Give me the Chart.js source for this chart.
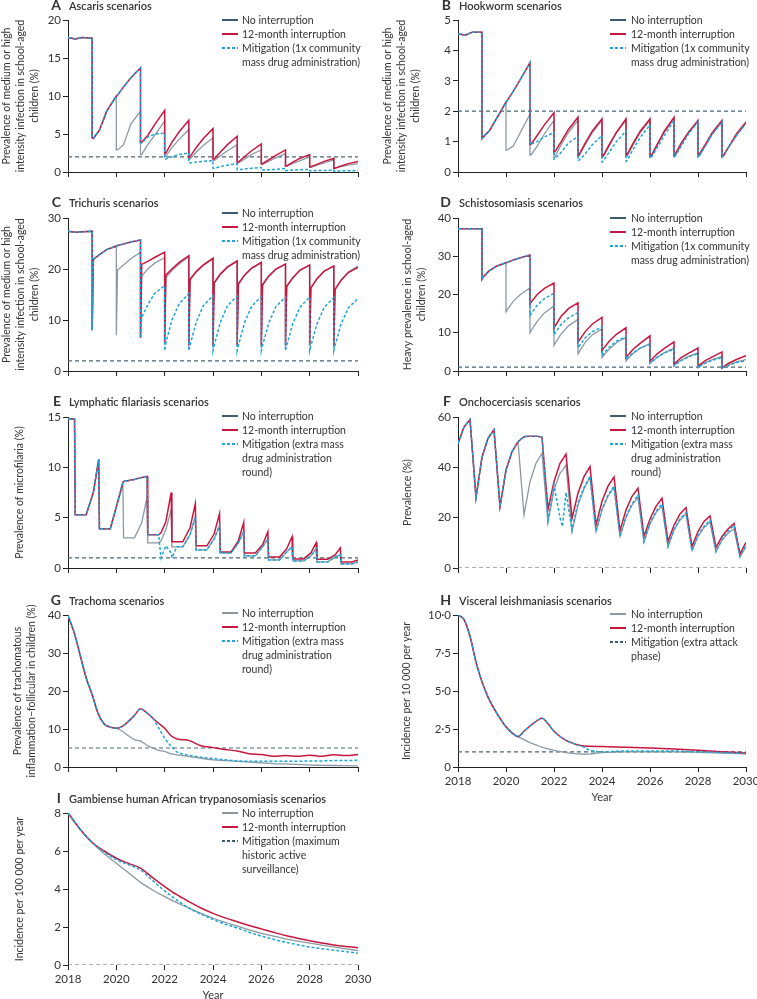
<!DOCTYPE html>
<html>
<head>
<meta charset="utf-8">
<script src="https://cdn.jsdelivr.net/npm/chart.js@4.4.1/dist/chart.umd.min.js"></script>
<style>
body { margin: 0; background: #fff; font-family: Lato, sans-serif; color: #333; }
#fig { position: relative; width: 757px; height: 999px; overflow: hidden; }
canvas { position: absolute; }
.ttl { position: absolute; font-size: 11px; font-weight: 600; line-height: 14px; white-space: nowrap; z-index: 2; }
.ttl .lt { position: absolute; right: 100%; margin-right: 8px; font-size: 14px; font-weight: 700; top: -1px; }
.leg { position: absolute; font-size: 10.5px; line-height: 14px; white-space: nowrap; z-index: 2; }
.leg .it { position: relative; }
.leg .sw { position: absolute; top: 6px; width: 16px; height: 1.6px; }
</style>
</head>
<body>
<div id="fig"></div>
<script>
// time grid shared by the ascaris / hookworm / trichuris / schisto panels (MDA each January)
const mdaYears = [2018, 2018.3, 2018.6,
  2019, 2019, 2019.05, 2019.3, 2019.6,
  2020, 2020, 2020.05, 2020.3, 2020.6,
  2021, 2021, 2021.05, 2021.3, 2021.6,
  2022, 2022, 2022.05, 2022.3, 2022.6,
  2023, 2023, 2023.05, 2023.3, 2023.6,
  2024, 2024, 2024.05, 2024.3, 2024.6,
  2025, 2025, 2025.05, 2025.3, 2025.6,
  2026, 2026, 2026.05, 2026.3, 2026.6,
  2027, 2027, 2027.05, 2027.3, 2027.6,
  2028, 2028, 2028.05, 2028.3, 2028.6,
  2029, 2029, 2029.05, 2029.3, 2029.6,
  2030];

// A ascaris
const ascarisNone = [17.7, 17.5, 17.7,
  17.6, 4.5, 4.4, 5.5, 8.0,
  10.0, 2.9, 2.9, 3.6, 6.3,
  8.0, 2.3, 2.3, 3.6, 4.9,
  6.7, 2.0, 2.1, 3.2, 4.3,
  5.6, 1.7, 1.7, 2.6, 3.5,
  4.5, 1.5, 1.5, 2.1, 2.8,
  3.6, 1.2, 1.2, 1.7, 2.3,
  2.9, 1.0, 1.0, 1.4, 1.9,
  2.4, 0.8, 0.8, 1.1, 1.5,
  2.0, 0.6, 0.6, 0.9, 1.2,
  1.6, 0.5, 0.5, 0.7, 0.9,
  1.1];
const ascarisStop = [17.7, 17.5, 17.7,
  17.6, 4.5, 4.4, 5.5, 8.0,
  10.0, 10.0, 10.1, 11.2, 12.4,
  13.7, 3.9, 3.9, 4.8, 6.3,
  8.1, 2.4, 2.5, 3.9, 5.3,
  6.8, 1.9, 2.0, 3.2, 4.4,
  5.7, 1.7, 1.7, 2.6, 3.6,
  4.7, 1.3, 1.3, 2.0, 2.8,
  3.7, 1.1, 1.1, 1.6, 2.2,
  2.9, 0.8, 0.8, 1.3, 1.8,
  2.3, 0.7, 0.7, 1.0, 1.4,
  1.8, 0.5, 0.5, 0.8, 1.1,
  1.4];
const ascarisMit = [17.7, 17.5, 17.7,
  17.6, 4.5, 4.4, 5.5, 8.0,
  10.0, 10.0, 10.1, 11.2, 12.4,
  13.7, 3.8, 3.8, 4.6, 5.0,
  5.1, 1.7, 1.7, 2.0, 2.3,
  2.5, 1.2, 1.2, 1.3, 1.4,
  1.5, 0.5, 0.5, 0.7, 0.9,
  1.1, 0.3, 0.3, 0.4, 0.5,
  0.6, 0.25, 0.25, 0.3, 0.35,
  0.45, 0.2, 0.2, 0.25, 0.3,
  0.35, 0.15, 0.15, 0.2, 0.2,
  0.25, 0.1, 0.1, 0.15, 0.15,
  0.2];

// B hookworm
const hookNone = [4.55, 4.5, 4.6,
  4.6, 1.1, 1.15, 1.35, 1.75,
  2.3, 0.72, 0.73, 0.85, 1.3,
  1.9, 0.55, 0.57, 0.85, 1.25,
  1.7, 0.5, 0.52, 0.9, 1.3,
  1.7, 0.5, 0.53, 0.9, 1.3,
  1.7, 0.5, 0.52, 0.85, 1.3,
  1.7, 0.5, 0.52, 0.9, 1.3,
  1.7, 0.5, 0.52, 0.9, 1.3,
  1.75, 0.5, 0.53, 0.9, 1.3,
  1.65, 0.5, 0.52, 0.85, 1.25,
  1.65, 0.5, 0.52, 0.85, 1.2,
  1.6];
const hookStop = [4.55, 4.5, 4.6,
  4.6, 1.1, 1.15, 1.35, 1.75,
  2.3, 2.3, 2.35, 2.65, 3.05,
  3.6, 0.9, 0.92, 1.2, 1.55,
  1.95, 0.65, 0.68, 1.0, 1.4,
  1.8, 0.55, 0.58, 0.95, 1.35,
  1.75, 0.5, 0.53, 0.9, 1.3,
  1.75, 0.55, 0.58, 0.95, 1.35,
  1.75, 0.5, 0.53, 0.9, 1.35,
  1.8, 0.55, 0.58, 0.95, 1.3,
  1.7, 0.55, 0.58, 0.9, 1.3,
  1.7, 0.5, 0.53, 0.85, 1.25,
  1.65];
const hookMit = [4.55, 4.5, 4.6,
  4.6, 1.1, 1.15, 1.35, 1.75,
  2.3, 2.3, 2.35, 2.65, 3.05,
  3.6, 0.9, 0.92, 1.0, 1.15,
  1.3, 0.42, 0.44, 0.65, 0.95,
  1.17, 0.37, 0.39, 0.6, 0.9,
  1.2, 0.33, 0.36, 0.65, 1.0,
  1.35, 0.35, 0.38, 0.75, 1.15,
  1.55, 0.45, 0.48, 0.8, 1.2,
  1.7, 0.5, 0.52, 0.85, 1.25,
  1.65, 0.5, 0.52, 0.85, 1.25,
  1.65, 0.5, 0.52, 0.85, 1.2,
  1.6];

// C trichuris
const trichNone = [27.4, 27.2, 27.3,
  27.4, 8.0, 21.9, 22.8, 23.8,
  24.5, 7.0, 19.8, 20.8, 22.0,
  23.3, 6.5, 18.6, 20.0, 21.2,
  22.2, 5.5, 18.3, 19.7, 21.0,
  22.4, 5.0, 17.8, 19.3, 20.7,
  22.0, 5.0, 17.2, 18.9, 20.3,
  21.5, 5.0, 17.0, 18.7, 20.1,
  21.2, 5.0, 16.8, 18.5, 19.9,
  20.9, 5.0, 16.5, 18.2, 19.7,
  20.7, 5.0, 16.2, 18.0, 19.5,
  20.5, 5.0, 16.0, 17.8, 19.4,
  20.6];
const trichStop = [27.4, 27.2, 27.3,
  27.4, 8.0, 21.9, 22.8, 23.8,
  24.5, 24.5, 24.6, 24.9, 25.3,
  25.7, 6.5, 20.9, 21.5, 22.3,
  23.3, 5.5, 18.8, 20.0, 21.3,
  22.6, 5.0, 18.0, 19.5, 20.8,
  22.1, 5.0, 17.3, 19.0, 20.4,
  21.6, 5.0, 17.1, 18.8, 20.2,
  21.3, 5.0, 16.9, 18.6, 20.0,
  21.0, 5.0, 16.6, 18.3, 19.8,
  20.8, 5.0, 16.3, 18.1, 19.6,
  20.6, 5.0, 16.0, 17.8, 19.3,
  20.3];
const trichMit = [27.4, 27.2, 27.3,
  27.4, 8.0, 21.9, 22.8, 23.8,
  24.5, 24.5, 24.6, 24.9, 25.3,
  25.7, 6.5, 10.5, 13.0, 15.3,
  16.7, 4.0, 5.5, 10.0, 13.2,
  15.2, 4.0, 5.0, 9.5, 12.8,
  14.8, 4.0, 5.0, 9.5, 12.8,
  14.7, 4.0, 5.0, 9.4, 12.7,
  14.6, 4.0, 5.0, 9.3, 12.6,
  14.5, 4.0, 5.0, 9.3, 12.5,
  14.5, 4.0, 5.0, 9.2, 12.5,
  14.4, 4.0, 5.0, 9.2, 12.4,
  14.2];

// D schistosomiasis
const schistoNone = [37.2, 37.2, 37.2,
  37.2, 24.0, 24.6, 26.2, 27.4,
  28.3, 15.5, 16.0, 18.2, 20.0,
  21.7, 10.0, 10.6, 13.0, 15.2,
  17.0, 6.7, 7.3, 9.7, 11.8,
  13.5, 4.5, 5.0, 7.5, 9.5,
  11.0, 3.5, 3.9, 5.7, 7.4,
  8.8, 2.6, 3.0, 4.6, 6.0,
  7.2, 2.0, 2.3, 3.6, 4.8,
  6.0, 1.5, 1.8, 2.8, 3.8,
  4.7, 1.1, 1.3, 2.2, 3.0,
  3.8, 0.8, 1.0, 1.7, 2.4,
  3.0];
const schistoStop = [37.2, 37.2, 37.2,
  37.2, 24.0, 24.6, 26.2, 27.4,
  28.3, 28.3, 28.4, 29.0, 29.6,
  30.3, 17.5, 18.0, 20.0, 21.6,
  23.0, 11.2, 11.8, 14.3, 16.3,
  17.8, 7.5, 8.0, 10.3, 12.3,
  14.0, 5.3, 5.8, 7.8, 9.6,
  11.3, 3.5, 3.9, 5.7, 7.3,
  9.2, 2.5, 2.9, 4.5, 5.9,
  7.6, 1.8, 2.1, 3.5, 4.6,
  6.0, 1.2, 1.5, 2.7, 3.7,
  5.0, 0.8, 1.1, 2.1, 3.0,
  4.0];
const schistoMit = [37.2, 37.2, 37.2,
  37.2, 24.0, 24.6, 26.2, 27.4,
  28.3, 28.3, 28.4, 29.0, 29.6,
  30.3, 14.5, 15.0, 17.2, 18.9,
  20.3, 9.5, 10.0, 12.2, 13.9,
  15.3, 6.0, 6.5, 8.7, 10.3,
  11.5, 4.0, 4.4, 6.2, 7.8,
  9.0, 3.0, 3.3, 4.8, 6.0,
  7.0, 2.0, 2.3, 3.6, 4.7,
  5.7, 1.3, 1.6, 2.7, 3.7,
  4.5, 0.9, 1.1, 2.0, 2.8,
  3.5, 0.7, 0.9, 1.5, 2.2,
  2.7];

// E lymphatic filariasis (MDA in spring)
const lfYears = [2018,
  2018.27, 2018.3, 2018.75, 2019.05,
  2019.27, 2019.3, 2019.75, 2020.05,
  2020.27, 2020.3, 2020.75, 2021.05,
  2021.27, 2021.3, 2021.75, 2021.85, 2022.05,
  2022.27, 2022.3, 2022.5, 2022.75, 2023.05,
  2023.27, 2023.3, 2023.75, 2024.05,
  2024.27, 2024.3, 2024.75, 2025.05,
  2025.27, 2025.3, 2025.75, 2026.05,
  2026.27, 2026.3, 2026.75, 2027.05,
  2027.27, 2027.3, 2027.75, 2028.05,
  2028.27, 2028.3, 2028.75, 2029.05,
  2029.27, 2029.3, 2029.75, 2030];
const lfNone = [14.8,
  14.8, 5.3, 5.3, 7.5,
  10.8, 3.9, 3.9, 6.5,
  8.3, 3.0, 3.0, 4.5,
  7.0, 2.5, 2.5, 2.7, 3.8,
  5.8, 2.1, 2.1, 2.1, 3.3,
  5.1, 1.8, 1.8, 2.9,
  4.2, 1.5, 1.5, 2.5,
  3.6, 1.2, 1.2, 2.1,
  2.9, 0.8, 0.8, 1.6,
  2.1, 0.7, 0.7, 1.2,
  1.9, 0.6, 0.6, 1.1,
  1.3, 0.4, 0.4, 0.6];
const lfStop = [14.8,
  14.8, 5.3, 5.3, 7.5,
  10.8, 3.9, 3.9, 6.5,
  8.5, 8.6, 8.8, 9.0,
  9.1, 3.3, 3.3, 3.5, 4.6,
  7.5, 2.6, 2.6, 2.6, 4.0,
  6.4, 2.2, 2.2, 3.4,
  5.4, 1.6, 1.6, 2.7,
  4.5, 1.5, 1.5, 2.3,
  3.6, 1.1, 1.1, 1.9,
  3.1, 0.9, 0.9, 1.5,
  2.5, 0.87, 0.87, 1.3,
  2.0, 0.6, 0.6, 0.8];
const lfMit = [14.8,
  14.8, 5.3, 5.3, 7.5,
  10.8, 3.9, 3.9, 6.5,
  8.5, 8.6, 8.8, 9.0,
  9.1, 3.3, 3.3, 1.0, 2.2,
  1.5, 1.0, 2.1, 2.1, 3.3,
  5.1, 1.8, 1.8, 2.9,
  4.2, 1.5, 1.5, 2.5,
  3.6, 1.2, 1.2, 2.1,
  2.9, 0.8, 0.8, 1.6,
  2.1, 0.7, 0.7, 1.2,
  1.9, 0.6, 0.6, 1.1,
  1.3, 0.4, 0.4, 0.6];

// F onchocerciasis
const onchoYears = [2018, 2018.25,
  2018.5, 2018.75, 2019, 2019.25,
  2019.5, 2019.75, 2020, 2020.25,
  2020.5, 2020.75, 2021, 2021.25,
  2021.5, 2021.75, 2022, 2022.25, 2022.35,
  2022.5, 2022.75, 2023, 2023.25,
  2023.5, 2023.75, 2024, 2024.25,
  2024.5, 2024.75, 2025, 2025.25,
  2025.5, 2025.75, 2026, 2026.25,
  2026.5, 2026.75, 2027, 2027.25,
  2027.5, 2027.75, 2028, 2028.25,
  2028.5, 2028.75, 2029, 2029.25,
  2029.5, 2029.75, 2030];
const onchoNone = [49.5, 56,
  59, 28, 44, 51.5,
  55, 24.4, 38.9, 46.2,
  50.2, 21.1, 34.3, 41.6,
  45.6, 18.0, 31.0, 37.6, 38.8,
  41.0, 14.5, 25.0, 31.5,
  36.0, 14.5, 23.0, 28.5,
  32.0, 12.5, 20.0, 25.0,
  28.0, 10.5, 17.5, 22.0,
  24.5, 8.5, 15.0, 19.0,
  21.5, 7.0, 12.5, 16.0,
  18.3, 6.5, 11.0, 13.8,
  15.5, 4.5, 8.5];
const onchoStop = [49.5, 56,
  59, 28, 44, 51.5,
  55, 24.4, 38.9, 46.2,
  50.2, 52.2, 52.4, 52.4,
  52.0, 23.3, 34.3, 41.6, 43.0,
  45.3, 19.7, 29.7, 36.3,
  40.3, 17.1, 26.5, 32.5,
  36.2, 14.8, 23.0, 28.5,
  31.7, 12.5, 19.5, 24.5,
  27.7, 10.5, 17.0, 21.5,
  24.0, 8.5, 14.5, 18.5,
  20.7, 8.2, 12.5, 15.5,
  17.7, 5.6, 10.2];
const onchoMit = [49.5, 56,
  59, 28, 44, 51.5,
  55, 24.4, 38.9, 46.2,
  50.2, 52.2, 52.4, 52.4,
  52.0, 19.0, 33.0, 20.0, 16.5,
  30.0, 15.0, 26.0, 32.0,
  36.5, 14.5, 23.5, 29.0,
  32.5, 12.5, 20.5, 25.5,
  29.0, 10.5, 18.0, 22.5,
  25.5, 8.5, 15.5, 19.5,
  22.0, 7.0, 13.0, 16.5,
  19.0, 6.5, 11.5, 14.5,
  17.0, 4.5, 9.0];

// G trachoma
const trachYears = [2018, 2018.25, 2018.5, 2018.75, 2019, 2019.25, 2019.5, 2019.75,
  2020, 2020.25, 2020.5, 2020.75, 2021, 2021.25, 2021.5, 2021.75,
  2022, 2022.25, 2022.5, 2022.75, 2023, 2023.5, 2024, 2024.5, 2025, 2025.5,
  2026, 2026.5, 2027, 2027.5, 2028, 2028.5, 2029, 2029.5, 2030];
const trachNone = [39.8, 35.5, 29.5, 23.5, 19.0, 14.0, 11.3, 10.5,
  10.2, 9.4, 8.2, 7.2, 6.8, 5.8, 5.0, 4.4,
  4.1, 3.5, 3.2, 3.0, 2.8, 2.3, 1.9, 1.7, 1.5, 1.3,
  1.1, 0.9, 0.8, 0.7, 0.5, 0.45, 0.4, 0.35, 0.3];
const trachStop = [39.8, 35.5, 29.5, 23.5, 19.0, 14.0, 11.3, 10.5,
  10.2, 10.7, 12.0, 13.6, 15.3, 14.3, 12.9, 11.5,
  10.2, 8.3, 7.4, 7.2, 7.0, 5.6, 5.1, 4.6, 4.2, 3.5,
  3.3, 2.8, 3.0, 2.8, 3.1, 2.8, 3.2, 3.0, 3.3];
const trachMit = [39.8, 35.5, 29.5, 23.5, 19.0, 14.0, 11.3, 10.5,
  10.2, 10.7, 12.0, 13.6, 15.3, 14.3, 12.9, 10.3,
  7.6, 5.6, 4.0, 3.4, 3.1, 2.6, 2.2, 1.9, 1.6, 1.5,
  1.5, 1.5, 1.5, 1.5, 1.6, 1.6, 1.7, 1.7, 1.8];

// H visceral leishmaniasis
const vlYears = [2018, 2018.25, 2018.5, 2018.75, 2019, 2019.25, 2019.5, 2019.75,
  2020, 2020.25, 2020.5, 2020.75, 2021, 2021.25, 2021.5, 2021.75,
  2022, 2022.5, 2023, 2023.25, 2023.5, 2024, 2025, 2026, 2027, 2028, 2029, 2030];
const vlNone = [10.0, 9.7, 8.6, 6.9, 5.6, 4.6, 3.85, 3.2,
  2.65, 2.25, 2.0, 1.8, 1.6, 1.45, 1.3, 1.2,
  1.1, 0.95, 0.86, 0.84, 0.86, 0.95, 1.0, 1.0, 1.0, 0.97, 0.92, 0.85];
const vlStop = [10.0, 9.7, 8.6, 6.9, 5.6, 4.6, 3.85, 3.2,
  2.65, 2.25, 2.0, 2.35, 2.7, 3.0, 3.2, 2.85,
  2.35, 1.75, 1.45, 1.38, 1.36, 1.35, 1.3, 1.25, 1.18, 1.1, 1.0, 0.92];
const vlMit = [10.0, 9.7, 8.6, 6.9, 5.6, 4.6, 3.85, 3.2,
  2.65, 2.25, 2.0, 2.35, 2.7, 3.0, 3.2, 2.85,
  2.35, 1.75, 1.45, 1.3, 1.1, 1.0, 1.05, 1.05, 1.05, 1.0, 0.95, 0.9];

// I gambiense HAT
const hatYears = [2018, 2018.5, 2019, 2019.5, 2020, 2020.5, 2021, 2021.5, 2022, 2022.5,
  2023, 2023.5, 2024, 2024.5, 2025, 2025.5, 2026, 2026.5, 2027, 2027.5,
  2028, 2028.5, 2029, 2029.5, 2030];
const hatNone = [8.0, 7.15, 6.45, 5.85, 5.35, 4.85, 4.35, 3.95, 3.6, 3.28,
  3.0, 2.72, 2.46, 2.25, 2.05, 1.85, 1.67, 1.52, 1.38, 1.26,
  1.15, 1.05, 0.95, 0.85, 0.76];
const hatStop = [8.0, 7.15, 6.45, 6.0, 5.62, 5.35, 5.1, 4.6, 4.13, 3.7,
  3.34, 3.0, 2.72, 2.48, 2.28, 2.08, 1.9, 1.72, 1.55, 1.41,
  1.28, 1.16, 1.05, 0.97, 0.91];
const hatMit = [8.0, 7.15, 6.45, 5.95, 5.55, 5.28, 5.0, 4.45, 3.9, 3.42,
  3.0, 2.68, 2.4, 2.15, 1.95, 1.72, 1.52, 1.35, 1.2, 1.07,
  0.95, 0.86, 0.78, 0.7, 0.62];

// elimination / control targets (dashed line)
const targets = { A: 2, B: 2, C: 2, D: 1, E: 1, F: 0, G: 5, H: 1, I: 0 };

const RED = '#c8163f';
const GREY = '#8c99a2';
const CYAN = '#1fa6d6';
const SLATE = '#3d5c70';
const TARGET = '#4b6677';

Chart.defaults.font.family = 'Lato, sans-serif';
Chart.defaults.color = '#333';

const fig = document.getElementById('fig');

function pts(xs, ys) {
  return xs.map((x, i) => ({ x: x, y: ys[i] }));
}

// row geometry: [plot top, plot bottom, title y]
const rows = [[20, 172, 6], [218, 371, 203], [417, 568, 402], [615, 767, 601], [813, 965, 799]];
const PAD_T = 30, PAD_B = 15;

function addTitle(letter, text, col, row) {
  const d = document.createElement('div');
  d.className = 'ttl';
  d.style.left = (col === 0 ? 69 : 459) + 'px';
  d.style.top = (rows[row][2] - 7) + 'px';
  d.innerHTML = '<span class="lt">' + letter + '</span>' + text;
  fig.appendChild(d);
}

function swatch(color, dashed) {
  if (dashed) return 'background:repeating-linear-gradient(90deg,' + color + ' 0 3px,transparent 3px 5px)';
  return 'background:' + color;
}

function addLegend(col, top, mitLines, noneColor, mitColor) {
  const d = document.createElement('div');
  d.className = 'leg';
  const left = col === 0 ? 222 : 610;
  const pad = col === 0 ? 20 : 21;
  d.style.left = left + 'px';
  d.style.top = (top - 7) + 'px';
  const items = [
    [['No interruption'], noneColor, false],
    [['12-month interruption'], RED, false],
    [mitLines, mitColor, true]
  ];
  d.innerHTML = items.map(it =>
    '<div class="it" style="padding-left:' + pad + 'px"><span class="sw" style="left:0;' + swatch(it[1], it[2]) + '"></span>' +
    it[0].join('<br>') + '</div>').join('');
  fig.appendChild(d);
}

function panel(p) {
  const right = p.col === 1;
  const r = rows[p.row];
  const xh = p.xLabels ? 37 : 8;
  const c = document.createElement('canvas');
  c.width = right ? 377 : 380;
  c.height = r[1] - r[0] + PAD_T + xh + PAD_B;
  c.style.left = (right ? 380 : 0) + 'px';
  c.style.top = (r[0] - PAD_T) + 'px';
  fig.appendChild(c);
  const interp = p.smooth ? 'monotone' : 'default';
  const datasets = [
    { data: pts([2018, 2030], [p.target, p.target]), borderColor: TARGET, borderWidth: 1.2, borderDash: [4, 3], order: 4 },
    { data: pts(p.x, p.none), borderColor: GREY, borderWidth: 1.3, order: 3, cubicInterpolationMode: interp },
    { data: pts(p.x, p.stop), borderColor: RED, borderWidth: 1.5, order: 2, cubicInterpolationMode: interp },
    { data: pts(p.x, p.mit), borderColor: CYAN, borderWidth: 1.5, borderDash: [3, 2], order: 1, cubicInterpolationMode: interp }
  ];
  new Chart(c, {
    type: 'line',
    data: { datasets: datasets },
    options: {
      responsive: false,
      animation: false,
      events: [],
      layout: { padding: { top: PAD_T, right: right ? 11 : 22, left: 0, bottom: PAD_B } },
      plugins: { legend: { display: false }, tooltip: { enabled: false } },
      elements: { point: { radius: 0 }, line: { tension: 0 } },
      scales: {
        x: {
          type: 'linear', min: 2018, max: 2030,
          ticks: { stepSize: 2, display: !!p.xLabels, color: '#333', font: { size: 11.5 }, padding: 2, callback: v => String(v) },
          grid: { drawOnChartArea: false, drawTicks: true, tickLength: 5, color: '#222' },
          border: { display: p.target !== 0, color: '#222', width: 1 },
          title: { display: !!p.xLabels, text: 'Year', color: '#333', font: { size: 11 }, padding: { top: 4, bottom: 0 } },
          afterFit: s => { s.height = xh; s.paddingLeft = 0; s.paddingRight = 0; }
        },
        y: {
          min: 0, max: p.ymax,
          ticks: { stepSize: p.step, color: '#333', font: { size: 11.5 }, padding: 2, callback: p.fmt || (v => String(v)) },
          grid: { drawOnChartArea: false, drawTicks: true, tickLength: 5, color: '#222' },
          border: { display: true, color: '#222', width: 1 },
          title: { display: true, text: p.ytitle, color: '#333', font: { size: 10.5, lineHeight: 1.3 }, padding: { top: p.tpad, bottom: 0 } },
          afterFit: s => { s.width = right ? 78 : 68; s.paddingTop = 0; s.paddingBottom = 0; }
        }
      }
    }
  });
}

const sthTitle = ['Prevalence of medium or high', 'intensity infection in school-aged', 'children (%)'];
const sthMit = ['Mitigation (1x community', 'mass drug administration)'];
const mdaMit = ['Mitigation (extra mass', 'drug administration', 'round)'];

panel({ col: 0, row: 0, x: mdaYears, none: ascarisNone, stop: ascarisStop, mit: ascarisMit, target: targets.A, ymax: 20, step: 5, ytitle: sthTitle, tpad: 0 });
panel({ col: 1, row: 0, x: mdaYears, none: hookNone, stop: hookStop, mit: hookMit, target: targets.B, ymax: 5, step: 1, ytitle: sthTitle, tpad: 1 });
panel({ col: 0, row: 1, x: mdaYears, none: trichNone, stop: trichStop, mit: trichMit, target: targets.C, ymax: 30, step: 10, ytitle: sthTitle, tpad: 0 });
panel({ col: 1, row: 1, x: mdaYears, none: schistoNone, stop: schistoStop, mit: schistoMit, target: targets.D, ymax: 40, step: 10, ytitle: ['Heavy prevalence in school-aged', 'children (%)'], tpad: 21 });
panel({ col: 0, row: 2, x: lfYears, none: lfNone, stop: lfStop, mit: lfMit, target: targets.E, ymax: 15, step: 5, ytitle: 'Prevalence of microfilaria (%)', tpad: 13 });
panel({ col: 1, row: 2, x: onchoYears, none: onchoNone, stop: onchoStop, mit: onchoMit, target: targets.F, ymax: 60, step: 20, ytitle: 'Prevalence (%)', tpad: 21 });
panel({ col: 0, row: 3, x: trachYears, none: trachNone, stop: trachStop, mit: trachMit, target: targets.G, ymax: 40, step: 10, smooth: true, ytitle: ['Prevalence of trachomatous', 'inflammation–follicular in children (%)'], tpad: 11 });
panel({ col: 1, row: 3, x: vlYears, none: vlNone, stop: vlStop, mit: vlMit, target: targets.H, ymax: 10, step: 2.5, smooth: true, xLabels: true,
  fmt: v => v === 0 ? '0' : v.toFixed(1).replace('.', '·'), ytitle: 'Incidence per 10 000 per year', tpad: 20 });
panel({ col: 0, row: 4, x: hatYears, none: hatNone, stop: hatStop, mit: hatMit, target: targets.I, ymax: 8, step: 2, smooth: true, xLabels: true, ytitle: 'Incidence per 100 000 per year', tpad: 13 });

addTitle('A', 'Ascaris scenarios', 0, 0);
addTitle('B', 'Hookworm scenarios', 1, 0);
addTitle('C', 'Trichuris scenarios', 0, 1);
addTitle('D', 'Schistosomiasis scenarios', 1, 1);
addTitle('E', 'Lymphatic filariasis scenarios', 0, 2);
addTitle('F', 'Onchocerciasis scenarios', 1, 2);
addTitle('G', 'Trachoma scenarios', 0, 3);
addTitle('H', 'Visceral leishmaniasis scenarios', 1, 3);
addTitle('I', 'Gambiense human African trypanosomiasis scenarios', 0, 4);

addLegend(0, 20, sthMit, SLATE, CYAN);
addLegend(1, 20, sthMit, SLATE, CYAN);
addLegend(0, 213, sthMit, SLATE, CYAN);
addLegend(1, 218, sthMit, SLATE, CYAN);
addLegend(0, 416, mdaMit, SLATE, CYAN);
addLegend(1, 416, mdaMit, SLATE, CYAN);
addLegend(0, 613, mdaMit, GREY, CYAN);
addLegend(1, 614, ['Mitigation (extra attack', 'phase)'], GREY, SLATE);
addLegend(0, 813, ['Mitigation (maximum', 'historic active', 'surveillance)'], GREY, SLATE);
</script>
</body>
</html>
